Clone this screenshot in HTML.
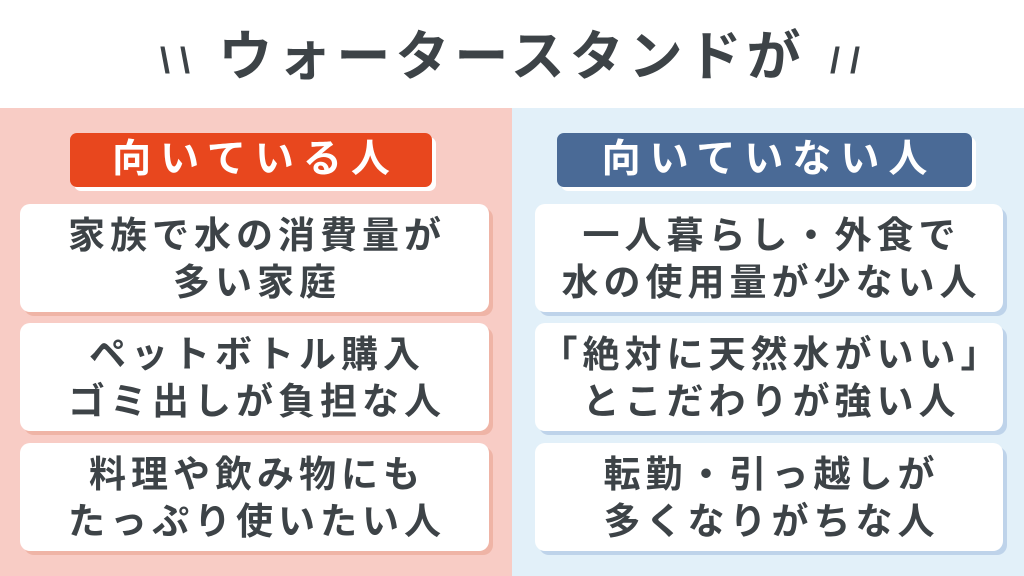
<!DOCTYPE html>
<html><head><meta charset="utf-8"><style>
*{margin:0;padding:0;box-sizing:border-box}
body{width:1024px;height:576px;overflow:hidden;background:#fff;font-family:"Liberation Sans","Noto Sans CJK JP",sans-serif;position:relative;color:#3d4347}
.title{position:absolute;top:24px;left:0;width:1024px;text-align:center;font-size:54px;font-weight:bold;letter-spacing:5px;line-height:66px}
.sl{position:absolute;top:40px;font-size:36px;font-weight:bold;color:#3d4347}
.pl{position:absolute;top:108px;left:0;width:512px;height:468px;background:#f8ccc5}
.pr{position:absolute;top:108px;left:512px;width:512px;height:468px;background:#e2f0f9}
.hd{position:absolute;top:133px;height:54px;border-radius:7px;color:#fff;font-size:39px;font-weight:bold;text-align:center;line-height:54px;letter-spacing:9px;padding-left:9px}
.card{position:absolute;height:108px;background:#fff;border-radius:10px;display:flex;align-items:center;justify-content:center;text-align:center;font-size:37px;font-weight:bold;line-height:47px;letter-spacing:5px;padding-top:2px;padding-left:5px}
.L{left:20px;width:469px;box-shadow:4px 4px 0 #efb4a6}
.R{left:535px;width:468px;box-shadow:4px 4px 0 #bed3ea}
</style></head><body>
<div class="title">ウォータースタンドが</div>
<div class="sl" style="left:160px">\ \</div>
<div class="sl" style="left:830px">/ /</div>
<div class="pl"></div><div class="pr"></div>
<div class="hd" style="left:70px;width:362px;background:#e8471e;box-shadow:4px 4px 0 #fff">向いている人</div>
<div class="hd" style="left:557px;width:415px;background:#4a6a96;box-shadow:4px 4px 0 #fff">向いていない人</div>
<div class="card L" style="top:204px">家族で水の消費量が<br>多い家庭</div>
<div class="card L" style="top:323px">ペットボトル購入<br>ゴミ出しが負担な人</div>
<div class="card L" style="top:443px">料理や飲み物にも<br>たっぷり使いたい人</div>
<div class="card R" style="top:204px">一人暮らし・外食で<br>水の使用量が少ない人</div>
<div class="card R" style="top:323px">「絶対に天然水がいい」<br>とこだわりが強い人</div>
<div class="card R" style="top:443px">転勤・引っ越しが<br>多くなりがちな人</div>
</body></html>
